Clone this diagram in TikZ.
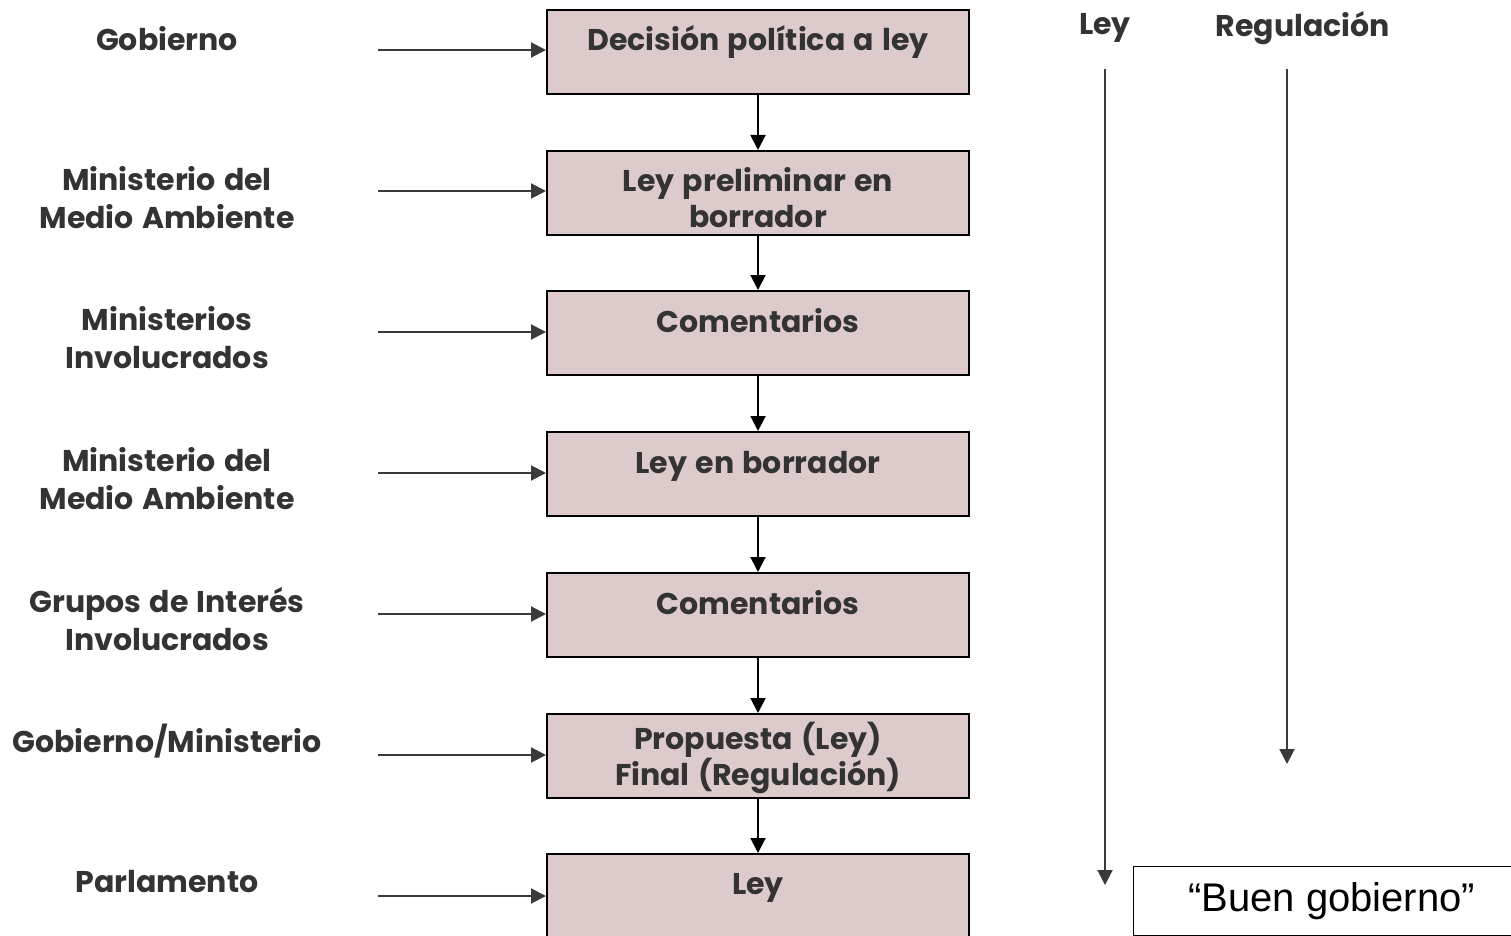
\documentclass[tikz,border=0pt]{standalone}
\usepackage{fontspec}
\setmainfont{Poppins}[WordSpace=1.3]
\setsansfont{Liberation Sans}
\usetikzlibrary{arrows.meta}
\definecolor{boxfill}{HTML}{DDCBCB}
\definecolor{txt}{HTML}{333333}
\definecolor{ln}{HTML}{3A3A3A}
\newcommand\bxt[3]{\parbox[c][84pt][t]{420pt}{\centering\baselineskip=#2pt\rule{0pt}{#1pt}#3\par}}
\begin{document}
\begin{tikzpicture}[x=1pt,y=-1pt,
  stepbox/.style={draw=black,line width=2pt,fill=boxfill,inner sep=0pt,minimum width=422pt,minimum height=84pt,anchor=north,text=txt,font=\fontsize{30}{37}\selectfont\bfseries},
  lab/.style={text=txt,font=\fontsize{30}{38}\selectfont\bfseries,align=center},
  arr/.style={draw=ln,line width=2pt,-{Triangle[length=15pt,width=15pt]}},
  varr/.style={arr,draw=black}]
\useasboundingbox (0,0) rectangle (1511,936);
% boxes
\node[stepbox] (b1) at (758,9)   {\bxt{41}{37}{Decisión política a ley}};
\node[stepbox] (b2) at (758,150) {\bxt{40}{37}{Ley preliminar en\\borrador}};
\node[stepbox] (b3) at (758,290) {\bxt{41}{37}{Comentarios}};
\node[stepbox] (b4) at (758,431) {\bxt{41}{37}{Ley en borrador}};
\node[stepbox] (b5) at (758,572) {\bxt{41}{37}{Comentarios}};
\node[stepbox] (b6) at (758,713) {\bxt{35}{35}{Propuesta (Ley)\\Final (Regulación)}};
\node[stepbox] (b7) at (758,853) {\bxt{40}{37}{Ley}};
% vertical arrows
\foreach \a/\b in {b1/b2,b2/b3,b3/b4,b4/b5,b5/b6,b6/b7}
  \draw[varr] (\a.south) -- (\b.north);
% left labels
\node[lab] (l1) at (167,39)  {Gobierno};
\node[lab] (l2) at (167,198) {Ministerio del\\Medio Ambiente};
\node[lab] (l3) at (167,338) {Ministerios\\Involucrados};
\node[lab] (l4) at (167,479) {Ministerio del\\Medio Ambiente};
\node[lab] (l5) at (167,619) {Grupos de Interés\\Involucrados};
\node[lab] (l6) at (167,741) {Gobierno/Ministerio};
\node[lab] (l7) at (167,882) {Parlamento};
% horizontal arrows
\foreach \i/\y in {1/50,2/191,3/332,4/473,5/614,6/755,7/896}{
  \coordinate (s\i) at (378,\y);
  \draw[arr] (s\i) -- (s\i -| b\i.west);
}
% right side
\node[lab] (ley) at (1105,28) {Ley};
\node[lab] (reg) at (1303,28) {Regulación};
\coordinate (ley1) at (1105,69);
\coordinate (ley2) at (1105,885);
\coordinate (reg1) at (1287,69);
\coordinate (reg2) at (1287,764);
\draw[arr] (ley1) -- (ley2);
\draw[arr] (reg1) -- (reg2);
\node[draw=black,line width=1.4pt,fill=white,minimum width=396pt,minimum height=69pt,anchor=north west,inner sep=0pt,font=\sffamily\fontsize{40}{46}\selectfont] (bg) at (1133,866) {“Buen gobierno”};
\end{tikzpicture}
\end{document}
